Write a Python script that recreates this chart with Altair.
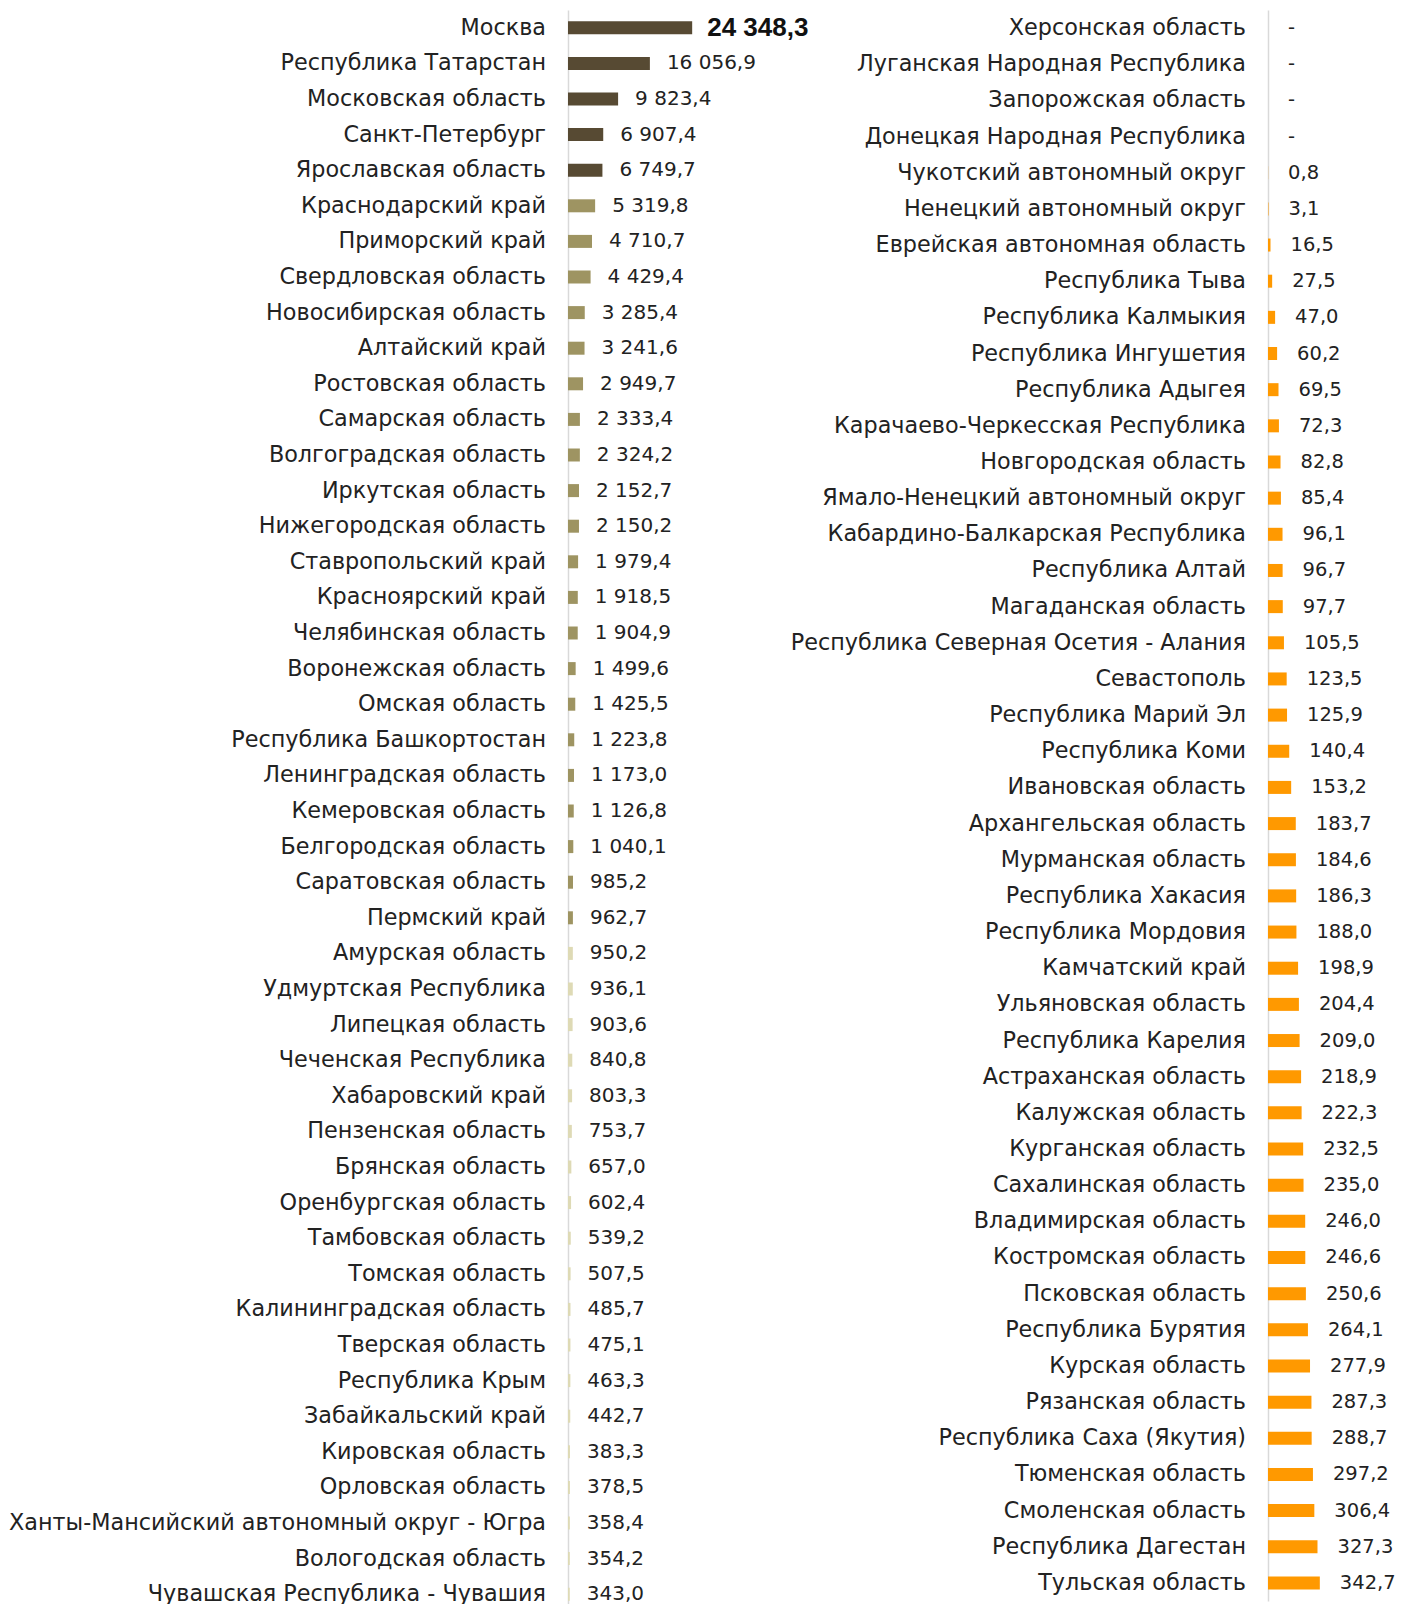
import altair as alt
import pandas as pd

left_regions = [
    "Москва", "Республика Татарстан", "Московская область", "Санкт-Петербург",
    "Ярославская область", "Краснодарский край", "Приморский край", "Свердловская область",
    "Новосибирская область", "Алтайский край", "Ростовская область", "Самарская область",
    "Волгоградская область", "Иркутская область", "Нижегородская область", "Ставропольский край",
    "Красноярский край", "Челябинская область", "Воронежская область", "Омская область",
    "Республика Башкортостан", "Ленинградская область", "Кемеровская область", "Белгородская область",
    "Саратовская область", "Пермский край", "Амурская область", "Удмуртская Республика",
    "Липецкая область", "Чеченская Республика", "Хабаровский край", "Пензенская область",
    "Брянская область", "Оренбургская область", "Тамбовская область", "Томская область",
    "Калининградская область", "Тверская область", "Республика Крым", "Забайкальский край",
    "Кировская область", "Орловская область", "Ханты-Мансийский автономный округ - Югра",
    "Вологодская область", "Чувашская Республика - Чувашия",
]
left_values = [
    24348.3, 16056.9, 9823.4, 6907.4, 6749.7, 5319.8, 4710.7, 4429.4, 3285.4, 3241.6,
    2949.7, 2333.4, 2324.2, 2152.7, 2150.2, 1979.4, 1918.5, 1904.9, 1499.6, 1425.5,
    1223.8, 1173.0, 1126.8, 1040.1, 985.2, 962.7, 950.2, 936.1, 903.6, 840.8,
    803.3, 753.7, 657.0, 602.4, 539.2, 507.5, 485.7, 475.1, 463.3, 442.7,
    383.3, 378.5, 358.4, 354.2, 343.0,
]
left_groups = ["top"] * 5 + ["mid"] * 21 + ["low"] * 19

right_regions = [
    "Херсонская область", "Луганская Народная Республика", "Запорожская область",
    "Донецкая Народная Республика", "Чукотский автономный округ", "Ненецкий автономный округ",
    "Еврейская автономная область", "Республика Тыва", "Республика Калмыкия", "Республика Ингушетия",
    "Республика Адыгея", "Карачаево-Черкесская Республика", "Новгородская область",
    "Ямало-Ненецкий автономный округ", "Кабардино-Балкарская Республика", "Республика Алтай",
    "Магаданская область", "Республика Северная Осетия - Алания", "Севастополь",
    "Республика Марий Эл", "Республика Коми", "Ивановская область", "Архангельская область",
    "Мурманская область", "Республика Хакасия", "Республика Мордовия", "Камчатский край",
    "Ульяновская область", "Республика Карелия", "Астраханская область", "Калужская область",
    "Курганская область", "Сахалинская область", "Владимирская область", "Костромская область",
    "Псковская область", "Республика Бурятия", "Курская область", "Рязанская область",
    "Республика Саха (Якутия)", "Тюменская область", "Смоленская область", "Республика Дагестан",
    "Тульская область",
]
right_values = [
    None, None, None, None, 0.8, 3.1, 16.5, 27.5, 47.0, 60.2,
    69.5, 72.3, 82.8, 85.4, 96.1, 96.7, 97.7, 105.5, 123.5, 125.9,
    140.4, 153.2, 183.7, 184.6, 186.3, 188.0, 198.9, 204.4, 209.0, 218.9,
    222.3, 232.5, 235.0, 246.0, 246.6, 250.6, 264.1, 277.9, 287.3, 288.7,
    297.2, 306.4, 327.3, 342.7,
]


def fmt(v):
    if v is None:
        return "-"
    return f"{v:,.1f}".replace(",", " ").replace(".", ",")


left_df = pd.DataFrame({
    "region": left_regions,
    "value": left_values,
    "group": left_groups,
    "label": [fmt(v) for v in left_values],
})
right_df = pd.DataFrame({
    "region": right_regions,
    "value": right_values,
    "pos": [0.0 if v is None else v for v in right_values],
    "label": [fmt(v) for v in right_values],
})

FONT = "DejaVu Sans"
FS = 22.3
VFS = 20
TXT = "#222222"


def yaxis():
    return alt.Axis(
        title=None, ticks=False, labelPadding=22.5, labelFontSize=FS, labelFont=FONT,
        labelColor=TXT, labelLimit=0, domainColor="#d9d9d9", domainWidth=1.5, grid=False,
    )


# ---- left panel
yl = alt.Y("region:N", sort=left_regions, axis=yaxis(),
           scale=alt.Scale(paddingInner=0.6, paddingOuter=0.3))
base_l = alt.Chart(left_df).encode(y=yl)
bars_l = base_l.mark_bar(size=13).encode(
    x=alt.X("value:Q", scale=alt.Scale(domain=[0, 50000], nice=False), axis=None),
    color=alt.Color("group:N", scale=alt.Scale(domain=["top", "mid", "low"],
                                                range=["#574a33", "#9e9462", "#dedab5"]),
                    legend=None),
)
text_l = base_l.mark_text(align="left", baseline="middle", dx=17, font=FONT,
                          fontSize=VFS, color=TXT).encode(
    x=alt.X("value:Q"), text="label:N"
).transform_filter("datum.region != 'Москва'")
bold_l = base_l.mark_text(align="left", baseline="middle", dx=15, font="Liberation Sans",
                          fontSize=26, fontWeight="bold", color="#111111").encode(
    x=alt.X("value:Q"), text="label:N"
).transform_filter("datum.region == 'Москва'")
left = alt.layer(bars_l, text_l, bold_l).properties(width=255, height=1602)

# ---- right panel
yr = alt.Y("region:N", sort=right_regions, axis=yaxis(),
           scale=alt.Scale(paddingInner=0.6, paddingOuter=0.3))
base_r = alt.Chart(right_df).encode(y=yr)
bars_r = base_r.mark_bar(size=13, color="#ff9900").encode(
    x=alt.X("value:Q", scale=alt.Scale(domain=[0, 820], nice=False), axis=None),
)
text_r = base_r.mark_text(align="left", baseline="middle", dx=20, font=FONT,
                          fontSize=19.5, color=TXT).encode(
    x=alt.X("pos:Q"), text="label:N"
)
right = alt.layer(bars_r, text_r).properties(width=124, height=1591)

chart = alt.hconcat(left, right, spacing=445, bounds="flush").properties(
    padding={"left": 0, "top": 2, "right": 0, "bottom": 0}
).configure_view(stroke=None)

chart.save("out.html", embed_options={"renderer": "svg", "actions": False})
